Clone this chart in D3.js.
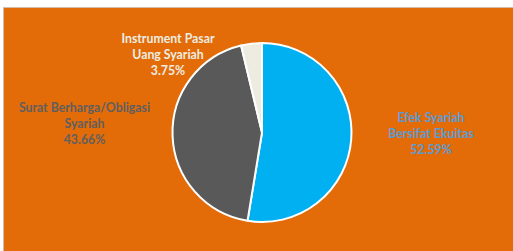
<!DOCTYPE html>
<html><head><meta charset="utf-8">
<script src="https://cdn.jsdelivr.net/npm/d3@7"></script>
<style>html,body{margin:0;padding:0;background:#fff;}svg{display:block;}</style>
</head><body>
<svg id="c" width="513" height="251"></svg>
<script>
const categories = ["Efek Syariah Bersifat Ekuitas", "Surat Berharga/Obligasi Syariah", "Instrument Pasar Uang Syariah"];
const values = [52.59, 43.66, 3.75];
const labelLines = [["Efek Syariah", "Bersifat Ekuitas", "52.59%"], ["Surat Berharga/Obligasi", "Syariah", "43.66%"], ["Instrument Pasar", "Uang Syariah", "3.75%"]];
const colors = ["#00B0F0", "#595959", "#EEECE1"];
const labelColors = ["#5B9BD5", "#5F5F5F", "#EEECE1"];

const svg = d3.select("#c");
const W = 513, H = 251;
svg.append("rect").attr("x", 3.5).attr("y", 7.5).attr("width", W).attr("height", H)
  .attr("fill", "#E36C09").attr("stroke", "#D8BBA6").attr("stroke-width", 1);

const cx = 262, cy = 132.5, r = 89.5;
const pie = d3.pie().sort(null).value(d => d)(values);
const arc = d3.arc().innerRadius(0).outerRadius(r);
const g = svg.append("g").attr("transform", `translate(${cx},${cy})`);
g.selectAll("path").data(pie).join("path")
  .attr("d", arc).attr("fill", (d, i) => colors[i])
  .attr("stroke", "#fff").attr("stroke-width", 2).attr("stroke-linejoin", "round");

const labelPos = [[431, 117], [84.5, 107], [168, 38]];
const lh = 16.3;
labelLines.forEach((lines, i) => {
  const t = svg.append("text").attr("text-anchor", "middle")
    .attr("font-family", "Lato, 'Open Sans', sans-serif").attr("font-weight", "bold")
    .attr("font-size", 12.3).attr("fill", labelColors[i]);
  lines.forEach((s, j) => {
    t.append("tspan").attr("x", labelPos[i][0]).attr("y", labelPos[i][1] + j * lh + 4.5).text(s);
  });
});
</script>
</body></html>
